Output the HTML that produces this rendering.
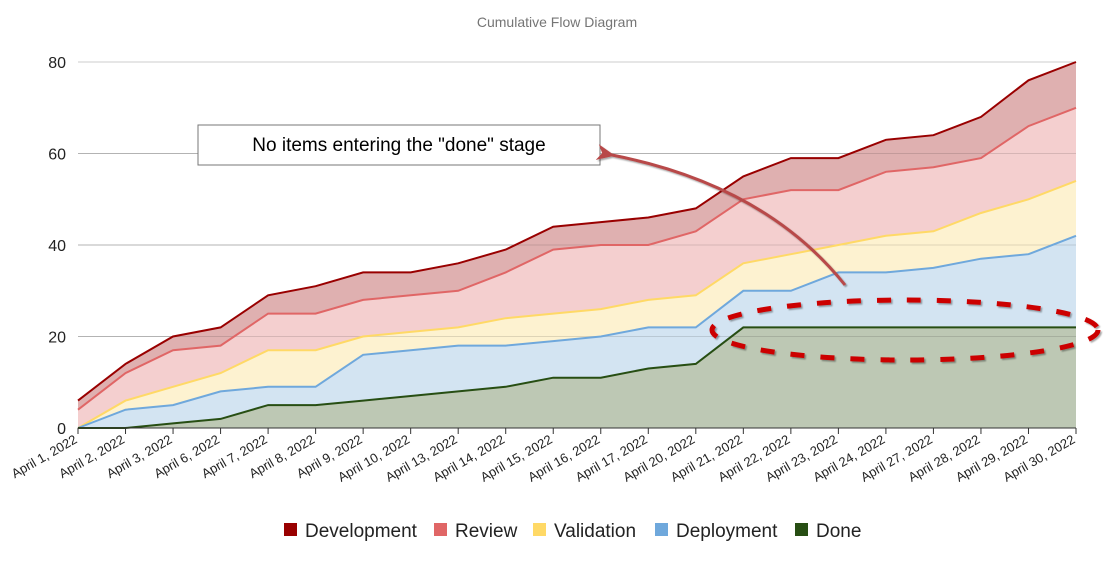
<!DOCTYPE html>
<html><head><meta charset="utf-8"><style>
html,body{margin:0;padding:0;background:#fff;}
svg{display:block;font-family:"Liberation Sans",Arial,sans-serif;}
</style></head><body>
<svg id="s" width="1113" height="569" viewBox="0 0 1113 569" xmlns="http://www.w3.org/2000/svg">
<defs>
<filter id="sh" x="-10%" y="-10%" width="120%" height="130%"><feDropShadow dx="1.5" dy="1.5" stdDeviation="0.8" flood-color="#000" flood-opacity="0.35"/></filter>
<marker id="ah" markerWidth="18" markerHeight="16" refX="3" refY="8" orient="auto-start-reverse" markerUnits="userSpaceOnUse"><path d="M0,8 L18,0 L13,8 L18,16 Z" fill="#b84848"/></marker>
</defs>
<text x="557" y="27" text-anchor="middle" font-size="14" fill="#757575">Cumulative Flow Diagram</text>
<g id="grid"></g>
<g id="areas"></g>
<g id="labels"></g>
<rect x="198" y="125" width="402" height="40" fill="#fff" stroke="#777" stroke-width="1"/>
<text x="399" y="151" text-anchor="middle" font-size="19" fill="#000">No items entering the "done" stage</text>
<path d="M845,285 Q765,185 612,155" fill="none" stroke="#b84848" stroke-width="3" filter="url(#sh)" marker-end="url(#ah)"/>
<ellipse cx="905" cy="330" rx="193" ry="30" fill="none" stroke="#cc0000" stroke-width="5" stroke-dasharray="14,16" filter="url(#sh)"/>
<g font-size="19" fill="#222">
<rect x="284" y="523" width="13" height="13" fill="#990000"/><text x="305" y="537">Development</text>
<rect x="434" y="523" width="13" height="13" fill="#e06666"/><text x="455" y="537">Review</text>
<rect x="533" y="523" width="13" height="13" fill="#ffd966"/><text x="554" y="537">Validation</text>
<rect x="655" y="523" width="13" height="13" fill="#6fa8dc"/><text x="676" y="537">Deployment</text>
<rect x="795" y="523" width="13" height="13" fill="#274e13"/><text x="816" y="537">Done</text>
</g>
</svg>
<script>
var NS="http://www.w3.org/2000/svg";
function el(p,t,a,txt){var e=document.createElementNS(NS,t);for(var k in a)e.setAttribute(k,a[k]);if(txt!=null)e.textContent=txt;p.appendChild(e);return e;}
var x0=78,x1=1076,n=22,dx=(x1-x0)/21,yb=428,k=(428-62)/80;
function X(i){return x0+i*dx;}function Y(v){return yb-v*k;}
var grid=document.getElementById('grid');
[0,20,40,60,80].forEach(function(v){el(grid,'line',{x1:x0,x2:x1,y1:Y(v),y2:Y(v),stroke:v==0?'#333':'#ccc','stroke-width':1});
el(grid,'text',{x:66,y:Y(v)+6,'text-anchor':'end','font-size':16,fill:'#222'},String(v));});
var S=[
["#dfb0b0","#990000",[6,14,20,22,29,31,34,34,36,39,44,45,46,48,55,59,59,63,64,68,76,80]],
["#f4cfcf","#e06666",[4,12,17,18,25,25,28,29,30,34,39,40,40,43,50,52,52,56,57,59,66,70]],
["#fdf2d0","#ffd966",[0,6,9,12,17,17,20,21,22,24,25,26,28,29,36,38,40,42,43,47,50,54]],
["#d3e4f2","#6fa8dc",[0,4,5,8,9,9,16,17,18,18,19,20,22,22,30,30,34,34,35,37,38,42]],
["#bdc8b4","#274e13",[0,0,1,2,5,5,6,7,8,9,11,11,13,14,22,22,22,22,22,22,22,22]]];
var ar=document.getElementById('areas');
S.forEach(function(s){var p=s[2].map(function(v,i){return X(i).toFixed(1)+","+Y(v).toFixed(1);}).join(" L");
el(ar,'path',{d:"M"+X(0)+","+yb+" L"+p+" L"+X(21)+","+yb+" Z",fill:s[0]});});
[60,40,20].forEach(function(v){el(ar,'line',{x1:x0,x2:x1,y1:Y(v),y2:Y(v),stroke:'#000','stroke-opacity':0.12,'stroke-width':1});});
S.forEach(function(s){var p=s[2].map(function(v,i){return X(i).toFixed(1)+","+Y(v).toFixed(1);}).join(" L");
el(ar,'path',{d:"M"+p,fill:"none",stroke:s[1],'stroke-width':2});});
el(ar,'line',{x1:x0,x2:x1,y1:yb,y2:yb,stroke:'#333','stroke-width':1});
var L=["April 1, 2022","April 2, 2022","April 3, 2022","April 6, 2022","April 7, 2022","April 8, 2022","April 9, 2022","April 10, 2022","April 13, 2022","April 14, 2022","April 15, 2022","April 16, 2022","April 17, 2022","April 20, 2022","April 21, 2022","April 22, 2022","April 23, 2022","April 24, 2022","April 27, 2022","April 28, 2022","April 29, 2022","April 30, 2022"];
var lb=document.getElementById('labels');
L.forEach(function(t,i){var x=X(i);el(lb,'line',{x1:x,x2:x,y1:yb,y2:yb+6,stroke:'#333'});
el(lb,'text',{x:x,y:yb+14,'text-anchor':'end','font-size':13,fill:'#222',transform:'rotate(-30 '+x+' '+(yb+14)+')'},t);});
</script>
</body></html>
